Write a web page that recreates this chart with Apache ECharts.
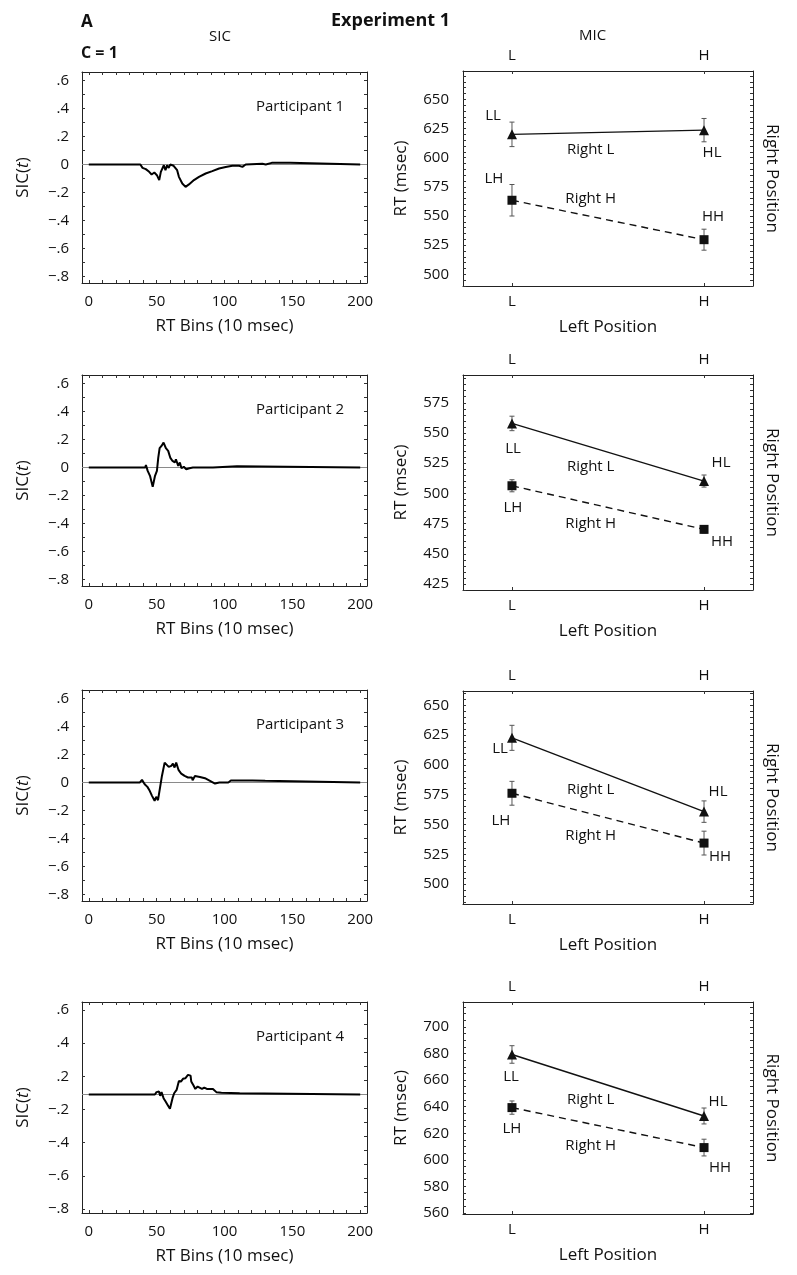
<!DOCTYPE html>
<html><head><meta charset="utf-8">
<script src="https://cdn.jsdelivr.net/npm/echarts@6/dist/echarts.min.js"></script>
<style>html,body{margin:0;padding:0;background:#fff}#c{width:797px;height:1275px}</style>
</head><body><div id="c"></div>
<script>
// ================= DATA =================
const participants = ['Participant 1', 'Participant 2', 'Participant 3', 'Participant 4'];
const sicXTickLabels = [0, 50, 100, 150, 200];
const sicYTickLabels = [-0.8, -0.6, -0.4, -0.2, 0, 0.2, 0.4, 0.6];
const sicRow4YLabels = ['−.8', '−.6', '−.4', '−.2', '.2', '.4', '.6'];

// SIC(t) curves: [RT bin, SIC value]
const sic1 = [[0,0],[38,0],[39.6,-0.024],[42,-0.033],[44.5,-0.052],[46.3,-0.071],[48.3,-0.057],[50.2,-0.076],[51.9,-0.111],[53.1,-0.052],[54.2,-0.064],[55.3,-0.005],[56.5,-0.040],[57.7,-0.005],[58.9,-0.024],[60,0],[62.5,-0.009],[63.8,-0.005],[65.1,-0.040],[66.4,-0.088],[68.9,-0.135],[71.3,-0.159],[73.8,-0.142],[77.5,-0.111],[81.2,-0.088],[86.1,-0.064],[91,-0.047],[96,-0.028],[100.9,-0.017],[105.8,-0.009],[110.7,-0.009],[113.2,-0.017],[115.6,0],[127.9,0.005],[129.2,0.014],[130.4,0],[134.8,0.012],[148.4,0.012],[149.6,0],[200,0]];
const sic2 = [[0,0],[41.6,0],[42.1,0.017],[43.4,-0.024],[45.1,-0.059],[47.1,-0.138],[48.8,-0.059],[50.2,-0.024],[51.2,0.071],[52.2,0.138],[53.6,0.154],[55.1,0.178],[56.8,0.138],[58.5,0.119],[60,0.071],[61.7,0.047],[63.4,0.036],[64.2,0.059],[65.9,0.012],[67.1,0.036],[68.3,-0.005],[70,0.005],[71.8,-0.012],[74.2,-0.005],[76.7,0],[91.5,0],[92.7,0.009],[109.2,0.009],[110,0],[200,0]];
const sic3 = [[0,0],[37.5,0],[39.2,0.019],[41.2,-0.012],[43.2,-0.031],[44.9,-0.059],[46.6,-0.095],[48.5,-0.130],[49.7,-0.102],[51,-0.126],[52.5,-0.036],[53.9,0.047],[55.9,0.142],[57.1,0.149],[58.9,0.112],[60.8,0.119],[62,0.135],[63.2,0.107],[64.4,0.142],[66.2,0.088],[68.1,0.064],[70.6,0.047],[73.1,0.036],[76,0.036],[76.5,0.017],[78.2,0.047],[81.9,0.040],[85.6,0.031],[89.3,0.012],[93,-0.007],[96.2,0],[102.8,0],[104.7,0.014],[118.2,0.014],[119.4,0.009],[120.6,0.014],[130,0.012],[131.2,0],[200,0]];
const sic4 = [[0,0],[48.7,0],[49.9,0.017],[51.7,0.021],[52.6,-0.009],[53.6,0.017],[55.1,-0.026],[56.6,-0.050],[58.1,-0.074],[59.8,-0.102],[61,-0.116],[61.7,-0.026],[62.9,0.009],[64.7,0.033],[66.4,0.097],[67.9,0.092],[69.4,0.112],[71.1,0.116],[73.1,0.140],[75,0.135],[75.5,0.093],[77.2,0.064],[78.5,0.040],[80.2,0.057],[83.4,0.040],[85.1,0.050],[87,0.040],[91.5,0.040],[94,0.017],[97.7,0.012],[111.2,0.009],[112.4,0],[200,0]];

// MIC: left position levels (x) and condition names
const micXLabels = ['L', 'H'];
const condRightL = ['LL', 'HL'];
const condRightH = ['LH', 'HH'];
// mean RTs (msec) and error bars
const rightL1 = [620, 623.6], rightH1 = [563.5, 529.7], errL1 = [10.5, 10], errH1 = [13.5, 9];
const rightL2 = [557.9, 510.2], rightH2 = [506.3, 470.2], errL2 = [6, 5], errH2 = [5, 3];
const rightL3 = [622.7, 560.8], rightH3 = [576.2, 534.4], errL3 = [10.5, 9], errH3 = [10, 10];
const rightL4 = [679.3, 633], rightH4 = [639.3, 609.2], errL4 = [6.6, 6], errH4 = [5, 6.3];
const micYTicks1 = [500, 525, 550, 575, 600, 625, 650];
const micYTicks2 = [425, 450, 475, 500, 525, 550, 575];
const micYTicks3 = [500, 525, 550, 575, 600, 625, 650];
const micYTicks4 = [560, 580, 600, 620, 640, 660, 680, 700];

// ================= LAYOUT / STYLE =================
const FONT = "'Open Sans', sans-serif";
const FS = 15;
const FSN = 17;
const TXT = { fontFamily: FONT, fontSize: FS, color: '#111' };
const NAME = { fontFamily: FONT, fontSize: FSN, color: '#111' };
const sicTops = [72, 375, 690, 1002];
const micTops = [71, 375, 691, 1002];
const micHeights = [215, 215, 213, 212];
const micRanges = [[490, 674.3], [420, 598], [483.3, 662], [559.2, 718.8]];
const micMinorStep = [5, 5, 5, 5];
// annotation placement (pixel offsets of condition labels; data coords of line names)
const condOffsets = [
  { LL: [-19, -19], HL: [8, 23], LH: [-18, -22], HH: [9, -23] },
  { LL: [1, 25], HL: [17, -18], LH: [1, 22], HH: [18, 12] },
  { LL: [-12, 11], HL: [14, -20], LH: [-11, 27], HH: [16, 14] },
  { LL: [-1, 22], HL: [14, -14], LH: [0, 21], HH: [16, 20] }
];
const lineNamePos = [
  { L: [0.41, 606.4], H: [0.41, 565.2] },
  { L: [0.41, 522], H: [0.41, 474.6] },
  { L: [0.41, 579.5], H: [0.41, 540.7] },
  { L: [0.41, 645.5], H: [0.41, 610.7] }
];

const sicData = [sic1, sic2, sic3, sic4];
const micData = [
  [rightL1, rightH1, errL1, errH1, micYTicks1],
  [rightL2, rightH2, errL2, errH2, micYTicks2],
  [rightL3, rightH3, errL3, errH3, micYTicks3],
  [rightL4, rightH4, errL4, errH4, micYTicks4]
];

function range(a, b, s) { const r = []; for (let v = a; v <= b + 1e-9; v += s) r.push(+v.toFixed(4)); return r; }
function fmtSic(v) {
  if (Math.abs(v) < 1e-9) return '0';
  const s = Math.abs(v).toFixed(1).replace(/^0/, '');
  return (v < 0 ? '−' : '') + s;
}

const grids = [], xAxes = [], yAxes = [], series = [], graphics = [];
const lineCol = '#222', tickCol = '#333';
const axisLine = { show: true, onZero: false, lineStyle: { color: lineCol, width: 1 } };

function errRender(params, api) {
  const x = api.value(0), y = api.value(1), e = api.value(2);
  const t = api.coord([x, y + e]), b = api.coord([x, y - e]);
  const cw = 2.5;
  const st = { stroke: '#555', lineWidth: 1 };
  return { type: 'group', children: [
    { type: 'line', shape: { x1: t[0], y1: t[1], x2: b[0], y2: b[1] }, style: st },
    { type: 'line', shape: { x1: t[0] - cw, y1: t[1], x2: t[0] + cw, y2: t[1] }, style: st },
    { type: 'line', shape: { x1: b[0] - cw, y1: b[1], x2: b[0] + cw, y2: b[1] }, style: st }
  ] };
}

for (let r = 0; r < 4; r++) {
  // ---------- SIC panel ----------
  const gi = grids.length;
  grids.push({ left: 82, top: sicTops[r], width: 285, height: 211 });
  const xb = xAxes.length;
  xAxes.push({
    type: 'value', gridIndex: gi, position: 'bottom', min: -5, max: 205,
    axisLine, splitLine: { show: false },
    axisTick: { show: true, inside: true, length: 3, lineStyle: { color: tickCol }, customValues: range(0, 200, 10) },
    axisLabel: { ...TXT, margin: 11, customValues: sicXTickLabels },
    name: 'RT Bins (10 msec)', nameLocation: 'middle', nameGap: 35, nameTextStyle: NAME
  });
  xAxes.push({
    type: 'value', gridIndex: gi, position: 'top', min: -5, max: 205,
    axisLine, splitLine: { show: false },
    axisTick: { show: true, inside: true, length: 3, lineStyle: { color: tickCol }, customValues: range(0, 200, 10) },
    axisLabel: { show: false }
  });
  const yl = yAxes.length;
  yAxes.push({
    type: 'value', gridIndex: gi, position: 'left', min: -0.845, max: 0.66,
    axisLine, splitLine: { show: false },
    axisTick: { show: r !== 3, inside: true, length: 3, lineStyle: { color: tickCol }, customValues: range(-0.8, 0.6, 0.1) },
    axisLabel: { show: r !== 3, ...TXT, margin: 13, customValues: sicYTickLabels, formatter: fmtSic },
    name: '{a|SIC(}{b|t}{a|)}', nameLocation: 'middle', nameGap: 50,
    nameTextStyle: { rich: { a: { ...NAME }, b: { ...NAME, fontStyle: 'italic' } } }
  });
  yAxes.push({
    type: 'value', gridIndex: gi, position: 'right', min: -0.845, max: 0.66,
    axisLine, splitLine: { show: false },
    axisTick: { show: true, inside: true, length: 3, lineStyle: { color: tickCol }, customValues: range(-0.8, 0.6, 0.1) },
    axisLabel: { show: false }
  });
  if (r === 3) {
    // the printed panel labels its seven ticks evenly, skipping zero
    yAxes.push({
      type: 'value', gridIndex: gi, position: 'left', min: -0.12, max: 6.24,
      axisLine: { show: false, onZero: false }, splitLine: { show: false },
      axisTick: { show: true, inside: true, length: 3, lineStyle: { color: tickCol }, customValues: [0, 1, 2, 3, 4, 5, 6] },
      axisLabel: { ...TXT, margin: 13, customValues: [0, 1, 2, 3, 4, 5, 6], formatter: v => sicRow4YLabels[Math.round(v)] }
    });
  }
  // zero reference line (drawn beneath the curve)
  series.push({
    type: 'line', xAxisIndex: xb, yAxisIndex: yl, data: [], z: 1, silent: true,
    markLine: { z: 1, silent: true, symbol: 'none', label: { show: false },
      lineStyle: { color: '#8a8a8a', width: 1, type: 'solid' }, data: [{ yAxis: 0 }] }
  });
  series.push({
    type: 'line', xAxisIndex: xb, yAxisIndex: yl, data: sicData[r], z: 6,
    showSymbol: false, symbol: 'none', lineStyle: { color: '#000', width: 2 }, silent: true
  });
  graphics.push({ type: 'text', left: 256, top: sicTops[r] + 27,
    style: { text: participants[r], font: FS + 'px ' + FONT, fill: '#111' } });

  // ---------- MIC panel ----------
  const mg = grids.length;
  grids.push({ left: 463, top: micTops[r], width: 290, height: micHeights[r] });
  const [rl, rh, el, eh, yt] = micData[r];
  const mxb = xAxes.length;
  xAxes.push({
    type: 'value', gridIndex: mg, position: 'bottom', min: -0.255, max: 1.255,
    axisLine, splitLine: { show: false },
    axisTick: { show: true, inside: true, length: 3, lineStyle: { color: tickCol }, customValues: [0, 1] },
    axisLabel: { ...TXT, margin: 8, customValues: [0, 1], formatter: v => micXLabels[Math.round(v)] },
    name: 'Left Position', nameLocation: 'middle', nameGap: 33, nameTextStyle: NAME
  });
  xAxes.push({
    type: 'value', gridIndex: mg, position: 'top', min: -0.255, max: 1.255,
    axisLine, splitLine: { show: false },
    axisTick: { show: true, inside: true, length: 3, lineStyle: { color: tickCol }, customValues: [0, 1] },
    axisLabel: { ...TXT, margin: 8, customValues: [0, 1], formatter: v => micXLabels[Math.round(v)] }
  });
  const myl = yAxes.length;
  const [ymin, ymax] = micRanges[r];
  const minorStart = Math.ceil(ymin / micMinorStep[r]) * micMinorStep[r];
  yAxes.push({
    type: 'value', gridIndex: mg, position: 'left', min: ymin, max: ymax,
    axisLine, splitLine: { show: false },
    axisTick: { show: true, inside: true, length: 3, lineStyle: { color: tickCol }, customValues: range(minorStart, ymax, micMinorStep[r]) },
    axisLabel: { ...TXT, margin: 14, customValues: yt },
    name: 'RT (msec)', nameLocation: 'middle', nameGap: 53, nameTextStyle: NAME
  });
  yAxes.push({
    type: 'value', gridIndex: mg, position: 'right', min: ymin, max: ymax,
    axisLine, splitLine: { show: false },
    axisTick: { show: true, inside: true, length: 3, lineStyle: { color: tickCol }, customValues: range(minorStart, ymax, micMinorStep[r]) },
    axisLabel: { show: false },
    name: 'Right Position', nameLocation: 'middle', nameGap: 10, nameRotate: -90, nameTextStyle: NAME
  });
  const off = condOffsets[r];
  const mkPts = (vals, names) => vals.map((v, i) => ({
    value: [i, v],
    label: { show: true, formatter: names[i], position: 'inside', offset: off[names[i]], ...TXT }
  }));
  // error bars
  series.push({
    type: 'custom', xAxisIndex: mxb, yAxisIndex: myl, renderItem: errRender, z: 2, silent: true,
    data: [[0, rl[0], el[0]], [1, rl[1], el[1]], [0, rh[0], eh[0]], [1, rh[1], eh[1]]]
  });
  series.push({
    type: 'line', xAxisIndex: mxb, yAxisIndex: myl, z: 3, silent: true,
    data: mkPts(rl, condRightL), symbol: 'triangle', symbolSize: 10,
    itemStyle: { color: '#111' }, lineStyle: { color: '#111', width: 1.4 },
    markPoint: { symbol: 'circle', symbolSize: 0, silent: true,
      label: { show: true, position: 'inside', ...TXT, formatter: 'Right L' },
      data: [{ coord: lineNamePos[r].L }] }
  });
  series.push({
    type: 'line', xAxisIndex: mxb, yAxisIndex: myl, z: 3, silent: true,
    data: mkPts(rh, condRightH), symbol: 'rect', symbolSize: 9,
    itemStyle: { color: '#111' }, lineStyle: { color: '#111', width: 1.4, type: [7, 5] },
    markPoint: { symbol: 'circle', symbolSize: 0, silent: true,
      label: { show: true, position: 'inside', ...TXT, formatter: 'Right H' },
      data: [{ coord: lineNamePos[r].H }] }
  });
}

// header texts
graphics.push({ type: 'text', left: 81, top: 14, style: { text: 'A', font: 'bold 17px ' + FONT, fill: '#111' } });
graphics.push({ type: 'text', left: 81, top: 45, style: { text: 'C = 1', font: 'bold 16px ' + FONT, fill: '#111' } });
graphics.push({ type: 'text', left: 331, top: 12, style: { text: 'Experiment 1', font: 'bold 18px ' + FONT, fill: '#111' } });
graphics.push({ type: 'text', left: 209, top: 29, style: { text: 'SIC', font: FS + 'px ' + FONT, fill: '#111' } });
graphics.push({ type: 'text', left: 579, top: 28, style: { text: 'MIC', font: FS + 'px ' + FONT, fill: '#111' } });

const chart = echarts.init(document.getElementById('c'), null, { renderer: 'canvas' });
chart.setOption({
  animation: false,
  backgroundColor: '#fff',
  textStyle: { fontFamily: FONT },
  grid: grids, xAxis: xAxes, yAxis: yAxes, series, graphic: graphics
});
</script></body></html>
